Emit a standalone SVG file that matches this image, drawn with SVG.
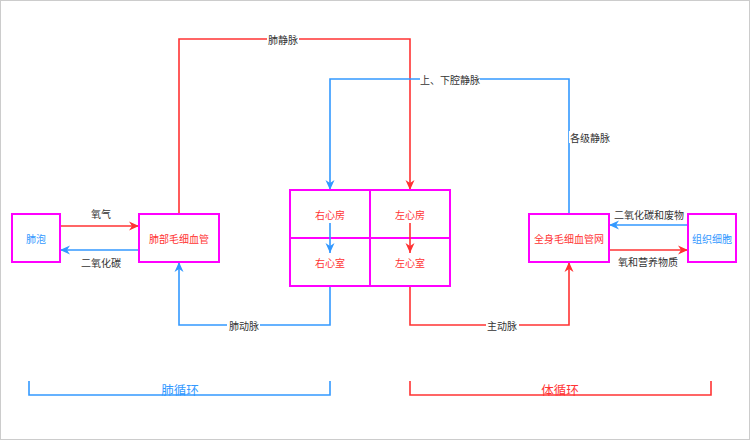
<svg xmlns="http://www.w3.org/2000/svg" width="750" height="440" viewBox="0 0 750 440">
<style>
  .node { fill: #ffffff; stroke: #ff00ff; stroke-width: 2; }
  .red { fill: none; stroke: #ff3333; stroke-width: 1.6; }
  .blue { fill: none; stroke: #3399ff; stroke-width: 1.6; }
  text { font-family: "Noto Sans CJK SC", "Noto Sans", sans-serif; font-size: 10px; text-anchor: middle; dominant-baseline: central; }
  .tr { fill: #ff3333; }
  .tb { fill: #3399ff; }
  .el { fill: #333333; }
  .bg { fill: #ffffff; }
  .big { font-size: 12.5px; }
</style>
<defs>
  <marker id="ar" viewBox="0 0 10 10" refX="10" refY="5" markerWidth="10" markerHeight="10" markerUnits="userSpaceOnUse" orient="auto">
    <path d="M0,0.5 L10,5 L0,9.5 L3,5 z" fill="#ff3333"/>
  </marker>
  <marker id="ab" viewBox="0 0 10 10" refX="10" refY="5" markerWidth="10" markerHeight="10" markerUnits="userSpaceOnUse" orient="auto">
    <path d="M0,0.5 L10,5 L0,9.5 L3,5 z" fill="#3399ff"/>
  </marker>
</defs>
<rect x="0.5" y="0.5" width="749" height="439" fill="#ffffff" stroke="#cccccc"/>

<g id="connectors">
  <path class="red" d="M60,226 H139" marker-end="url(#ar)"/>
  <path class="blue" d="M139,250 H60" marker-end="url(#ab)"/>
  <path class="red" d="M179,214 V39 H410 V190" marker-end="url(#ar)"/>
  <path class="blue" d="M569,214 V79 H330 V190" marker-end="url(#ab)"/>
  <path class="blue" d="M330,286 V325 H179 V262" marker-end="url(#ab)"/>
  <path class="red" d="M410,286 V325 H569 V262" marker-end="url(#ar)"/>
  <path class="blue" d="M688,225 H609" marker-end="url(#ab)"/>
  <path class="red" d="M609,250 H688" marker-end="url(#ar)"/>

  <text class="el" x="101" y="213">氧气</text>
  <text class="el" x="101" y="262">二氧化碳</text>
  <rect class="bg" x="267" y="33" width="32" height="12"/>
  <text class="el" x="283" y="39">肺静脉</text>
  <rect class="bg" x="420" y="73" width="60" height="12"/>
  <text class="el" x="450" y="79">上、下腔静脉</text>
  <rect class="bg" x="569" y="131" width="42" height="12"/>
  <text class="el" x="590" y="137">各级静脉</text>
  <rect class="bg" x="227" y="319" width="33" height="12"/>
  <text class="el" x="244" y="325">肺动脉</text>
  <rect class="bg" x="486" y="319" width="33" height="12"/>
  <text class="el" x="502" y="325">主动脉</text>
  <text class="el" x="649" y="214">二氧化碳和废物</text>
  <text class="el" x="648" y="261">氧和营养物质</text>
</g>

<g id="fei-pao">
  <rect class="node" x="12" y="214" width="48" height="48"/>
  <text class="tb" x="36" y="238">肺泡</text>
</g>
<g id="fei-bu-mao-xi-xue-guan">
  <rect class="node" x="139" y="214" width="80" height="48"/>
  <text class="tr" x="179" y="238">肺部毛细血管</text>
</g>
<g id="you-xin-fang">
  <rect class="node" x="290" y="190" width="80" height="48"/>
  <text class="tr" x="330" y="214">右心房</text>
</g>
<g id="zuo-xin-fang">
  <rect class="node" x="370" y="190" width="80" height="48"/>
  <text class="tr" x="410" y="214">左心房</text>
</g>
<g id="you-xin-shi">
  <rect class="node" x="290" y="238" width="80" height="48"/>
  <text class="tr" x="330" y="262">右心室</text>
</g>
<g id="zuo-xin-shi">
  <rect class="node" x="370" y="238" width="80" height="48"/>
  <text class="tr" x="410" y="262">左心室</text>
</g>
<g id="heart-arrows">
  <path class="blue" d="M330,223 V253" marker-end="url(#ab)"/>
  <path class="red" d="M410,223 V253" marker-end="url(#ar)"/>
</g>
<g id="quan-shen-mao-xi-xue-guan-wang">
  <rect class="node" x="529" y="214" width="80" height="48"/>
  <text class="tr" x="569" y="238">全身毛细血管网</text>
</g>
<g id="zu-zhi-xi-bao">
  <rect class="node" x="688" y="214" width="48" height="48"/>
  <text class="tb" x="712" y="238">组织细胞</text>
</g>

<g id="fei-xun-huan">
  <path class="blue" d="M29,381 V395 H330 V381"/>
  <text class="tb big" x="180" y="389">肺循环</text>
</g>
<g id="ti-xun-huan">
  <path class="red" d="M410,381 V395 H711 V381"/>
  <text class="tr big" x="560" y="389">体循环</text>
</g>
</svg>
